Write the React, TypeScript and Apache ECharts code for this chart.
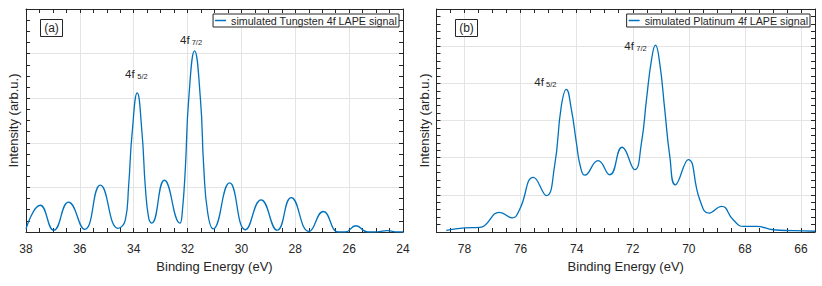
import React, { useEffect, useRef } from "react";
import * as echarts from "echarts";

// Tungsten 4f (panel a)
const tungstenEnergy = [
  38.0, 37.47, 36.97, 36.42, 35.82, 35.24, 34.58, 34.31, 34.19, 34.06, 33.87,
  33.69, 33.57, 33.44, 33.33, 32.86, 32.28, 32.2, 32.08, 31.96, 31.74, 31.52,
  31.4, 31.25, 31.05, 30.44, 29.85, 29.27, 28.67, 28.15, 27.49, 26.96, 26.4,
  26.15, 25.75, 25.32, 24.95, 24.58, 24.2, 24.0,
];
const tungstenIntensity = [
  0.07, 0.6, 0.04, 0.67, 0.06, 1.05, 0.08, 0.27, 1.02, 2.21, 3.12,
  2.21, 1.02, 0.3, 0.2, 1.16, 0.2, 0.42, 1.46, 2.96, 4.06, 2.96,
  1.46, 0.42, 0.07, 1.1, 0.05, 0.72, 0.04, 0.77, 0.015, 0.46, 0.0,
  0.0, 0.14, 0.0, 0.005, 0.03, 0.0, 0.0,
];

// Platinum 4f (panel b)
const platinumEnergy = [
  78.65, 78.0, 77.46, 77.29, 76.75, 76.3, 76.04, 75.54, 75.08, 74.79, 74.55,
  74.37, 74.19, 74.01, 73.87, 73.71, 73.24, 72.82, 72.38, 71.93, 71.69, 71.51,
  71.33, 71.19, 71.04, 70.86, 70.68, 70.48, 70.02, 69.61, 69.28, 68.83, 68.42,
  68.04, 67.58, 66.99, 66.27, 65.5,
];
const platinumIntensity = [
  0.045, 0.11, 0.125, 0.17, 0.53, 0.38, 0.6, 1.47, 0.98, 1.77, 3.38,
  3.84, 3.3, 2.4, 1.77, 1.53, 1.92, 1.54, 2.28, 1.68, 2.4, 3.57,
  4.64, 5.03, 4.55, 3.3, 2.04, 1.27, 1.95, 0.87, 0.51, 0.69, 0.33,
  0.15, 0.15, 0.06, 0.035, 0.02,
];

const platinumGridTicks = [78, 76, 74, 72, 70, 68, 66];

const tungstenName = "simulated Tungsten 4f LAPE signal";
const platinumName = "simulated Platinum 4f LAPE signal";

const DARK = "#262626";
const GRID = "#e4e4e4";
const BLUE = "#0072BD";
const FONT = "'Liberation Sans', Arial, Helvetica, sans-serif";

function zip(xs: number[], ys: number[]) {
  return xs.map((x, i) => [x, ys[i]]);
}

export default function App() {
  const ref = useRef<HTMLDivElement>(null);

  useEffect(() => {
    if (!ref.current) return;
    const chart = echarts.init(ref.current, undefined, { renderer: "svg" });

    const tick = { show: true, inside: true, length: 4, lineStyle: { color: DARK, width: 1 } };
    const minor = (n: number) => ({ show: true, splitNumber: n, length: 4, lineStyle: { color: DARK, width: 1 } });
    const line = { show: true, onZero: false, lineStyle: { color: DARK, width: 1 } };
    const label = { show: true, color: DARK, fontSize: 12, margin: 11, fontFamily: FONT };
    const xName = {
      name: "Binding Energy (eV)",
      nameLocation: "middle",
      nameGap: 27,
      nameTextStyle: { color: DARK, fontSize: 13, fontFamily: FONT },
    };
    const yName = {
      name: "Intensity (arb.u.)",
      nameLocation: "middle",
      nameGap: 6,
      nameTextStyle: { color: DARK, fontSize: 13, fontFamily: FONT },
    };
    const legendBase = {
      orient: "horizontal",
      icon: "rect",
      itemWidth: 11,
      itemHeight: 1.5,
      padding: [1, 2, 1, 2],
      borderColor: DARK,
      borderWidth: 1,
      backgroundColor: "#fff",
      textStyle: { color: DARK, fontSize: 10.7, fontFamily: FONT },
      selectedMode: false,
      z: 20,
    };

    const option: any = {
      animation: false,
      textStyle: { fontFamily: FONT },
      grid: [
        { left: 26, top: 9, width: 377, height: 223 },
        { left: 436.5, top: 9, width: 378.5, height: 223 },
      ],
      xAxis: [
        {
          type: "value", gridIndex: 0, position: "bottom", min: 24, max: 38, interval: 2, inverse: true,
          axisLine: line, axisTick: tick, minorTick: minor(4), axisLabel: label,
          splitLine: { show: true, lineStyle: { color: GRID, width: 1 } },
          ...xName,
        },
        {
          type: "value", gridIndex: 0, position: "top", min: 24, max: 38, interval: 2, inverse: true,
          axisLine: line, axisTick: tick, minorTick: minor(4), axisLabel: { show: false },
          splitLine: { show: false },
        },
        {
          type: "value", gridIndex: 1, position: "bottom", min: 65.5, max: 79, interval: 0.5, inverse: true,
          axisLine: line, axisTick: tick,
          axisLabel: { ...label, formatter: (v: number) => (Math.abs(v % 2) < 1e-6 ? String(v) : "") },
          splitLine: { show: false },
          ...xName,
        },
        {
          type: "value", gridIndex: 1, position: "top", min: 65.5, max: 79, interval: 0.5, inverse: true,
          axisLine: line, axisTick: tick, axisLabel: { show: false }, splitLine: { show: false },
        },
      ],
      yAxis: [
        {
          type: "value", gridIndex: 0, position: "left", min: 0, max: 5, interval: 1,
          axisLine: line, axisTick: tick, minorTick: minor(4), axisLabel: { show: false },
          splitLine: { show: true, lineStyle: { color: GRID, width: 1 } },
          ...yName,
        },
        {
          type: "value", gridIndex: 0, position: "right", min: 0, max: 5, interval: 1,
          axisLine: line, axisTick: tick, minorTick: minor(4), axisLabel: { show: false },
          splitLine: { show: false },
        },
        {
          type: "value", gridIndex: 1, position: "left", min: 0, max: 6, interval: 1,
          axisLine: line, axisTick: tick, minorTick: minor(5), axisLabel: { show: false },
          splitLine: { show: true, lineStyle: { color: GRID, width: 1 } },
          ...yName,
        },
        {
          type: "value", gridIndex: 1, position: "right", min: 0, max: 6, interval: 1,
          axisLine: line, axisTick: tick, minorTick: minor(5), axisLabel: { show: false },
          splitLine: { show: false },
        },
      ],
      legend: [
        { ...legendBase, data: [tungstenName], right: 423, top: 14 },
        { ...legendBase, data: [platinumName], right: 12, top: 14 },
      ],
      series: [
        {
          name: "grid-b", type: "line", xAxisIndex: 2, yAxisIndex: 2, data: [], z: 0, silent: true,
          markLine: {
            z: 0,
            silent: true, symbol: ["none", "none"], label: { show: false }, animation: false,
            lineStyle: { color: GRID, type: "solid", width: 1 },
            emphasis: { disabled: true },
            data: platinumGridTicks.map((v) => ({ xAxis: v })),
          },
        },
        {
          name: tungstenName, type: "line", xAxisIndex: 0, yAxisIndex: 0,
          data: zip(tungstenEnergy, tungstenIntensity), showSymbol: false, symbol: "none",
          smooth: 0.5, color: BLUE, lineStyle: { color: BLUE, width: 1.3 }, z: 3,
        },
        {
          name: platinumName, type: "line", xAxisIndex: 2, yAxisIndex: 2,
          data: zip(platinumEnergy, platinumIntensity), showSymbol: false, symbol: "none",
          smooth: 0.5, color: BLUE, lineStyle: { color: BLUE, width: 1.3 }, z: 3,
        },
      ],
      graphic: [
        { type: "rect", shape: { x: 40.5, y: 19.5, width: 22, height: 17 }, style: { fill: "#fff", stroke: DARK, lineWidth: 1 }, z: 10 },
        { type: "text", x: 51.5, y: 28, style: { text: "(a)", fill: DARK, font: `12px ${FONT}`, align: "center", verticalAlign: "middle" }, z: 11 },
        { type: "rect", shape: { x: 455.5, y: 19.5, width: 22, height: 17 }, style: { fill: "#fff", stroke: DARK, lineWidth: 1 }, z: 10 },
        { type: "text", x: 466.5, y: 28, style: { text: "(b)", fill: DARK, font: `12px ${FONT}`, align: "center", verticalAlign: "middle" }, z: 11 },

        { type: "text", x: 125, y: 73.9, style: { text: "4f", fill: DARK, font: `11.5px ${FONT}`, verticalAlign: "middle" }, z: 11 },
        { type: "text", x: 137.3, y: 76.7, style: { text: "5/2", fill: DARK, font: `7.5px ${FONT}`, verticalAlign: "middle" }, z: 11 },
        { type: "text", x: 180, y: 39.7, style: { text: "4f", fill: DARK, font: `11.5px ${FONT}`, verticalAlign: "middle" }, z: 11 },
        { type: "text", x: 191.7, y: 42.4, style: { text: "7/2", fill: DARK, font: `7.5px ${FONT}`, verticalAlign: "middle" }, z: 11 },

        { type: "text", x: 534.3, y: 82.2, style: { text: "4f", fill: DARK, font: `11.5px ${FONT}`, verticalAlign: "middle" }, z: 11 },
        { type: "text", x: 546, y: 84.9, style: { text: "5/2", fill: DARK, font: `7.5px ${FONT}`, verticalAlign: "middle" }, z: 11 },
        { type: "text", x: 624.3, y: 45.9, style: { text: "4f", fill: DARK, font: `11.5px ${FONT}`, verticalAlign: "middle" }, z: 11 },
        { type: "text", x: 636.3, y: 48.6, style: { text: "7/2", fill: DARK, font: `7.5px ${FONT}`, verticalAlign: "middle" }, z: 11 },
      ],
    };

    chart.setOption(option);
    return () => chart.dispose();
  }, []);

  return (
    <div
      ref={ref}
      style={{ position: "fixed", left: 0, top: 0, width: 822, height: 286, background: "#fff" }}
    />
  );
}
